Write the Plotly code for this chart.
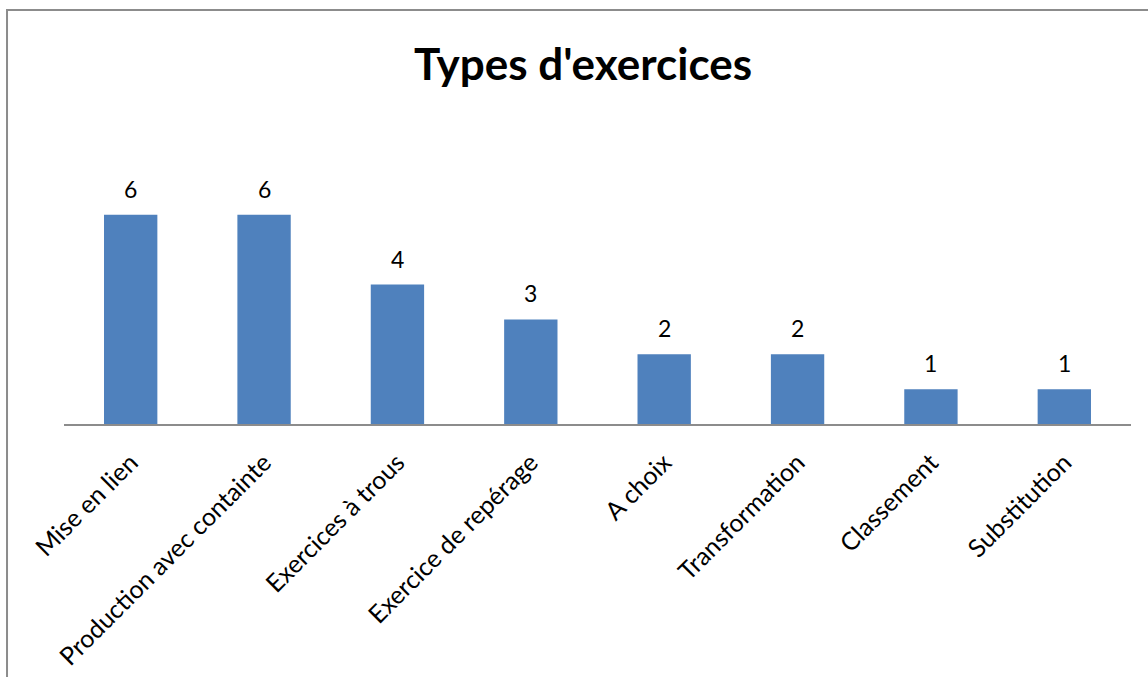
import plotly.graph_objects as go

# Exercise types and how many of each were counted
categories = [
    "Mise en lien",
    "Production avec containte",
    "Exercices à trous",
    "Exercice de repérage",
    "A choix",
    "Transformation",
    "Classement",
    "Substitution",
]
counts = [6, 6, 4, 3, 2, 2, 1, 1]

BAR_COLOR = "#4F81BD"
FONT = "Lato, 'Open Sans', sans-serif"

fig = go.Figure(
    go.Bar(
        x=categories,
        y=counts,
        marker=dict(color=BAR_COLOR, line=dict(width=0)),
        hoverinfo="x+y",
    )
)

# value labels above each bar
for cat, val in zip(categories, counts):
    fig.add_annotation(
        x=cat, y=val, text=str(val), showarrow=False,
        yanchor="bottom", yshift=10,
        font=dict(family=FONT, size=23, color="#000000"),
    )

# outer frame of the chart area
fig.add_shape(
    type="rect", xref="paper", yref="paper",
    x0=-0.0534, y0=-3.0, x1=1.5, y1=1.697,
    line=dict(color="#8c8c8c", width=2), fillcolor="rgba(0,0,0,0)",
    layer="below",
)

fig.update_layout(
    width=1148,
    height=677,
    margin=dict(l=64, r=17, t=180, b=253, autoexpand=False),
    paper_bgcolor="white",
    plot_bgcolor="white",
    bargap=0.6,
    showlegend=False,
    title=dict(
        text="<b>Types d'exercices</b>",
        x=583 / 1148, xref="container", xanchor="center",
        y=1 - 65 / 677, yref="container", yanchor="middle",
        font=dict(family=FONT, size=44, color="#000000"),
    ),
    font=dict(family=FONT, size=24, color="#000000"),
    xaxis=dict(
        tickangle=-45, automargin=False,
        showline=True, linecolor="#8c8c8c", linewidth=2,
        ticks="outside", ticklen=12, tickcolor="rgba(0,0,0,0)",
        showgrid=False,
        tickfont=dict(family=FONT, size=25, color="#000000"),
    ),
    yaxis=dict(
        range=[0, 7], visible=False, showgrid=False, zeroline=False,
        automargin=False,
    ),
)

fig.write_html("out.html")
